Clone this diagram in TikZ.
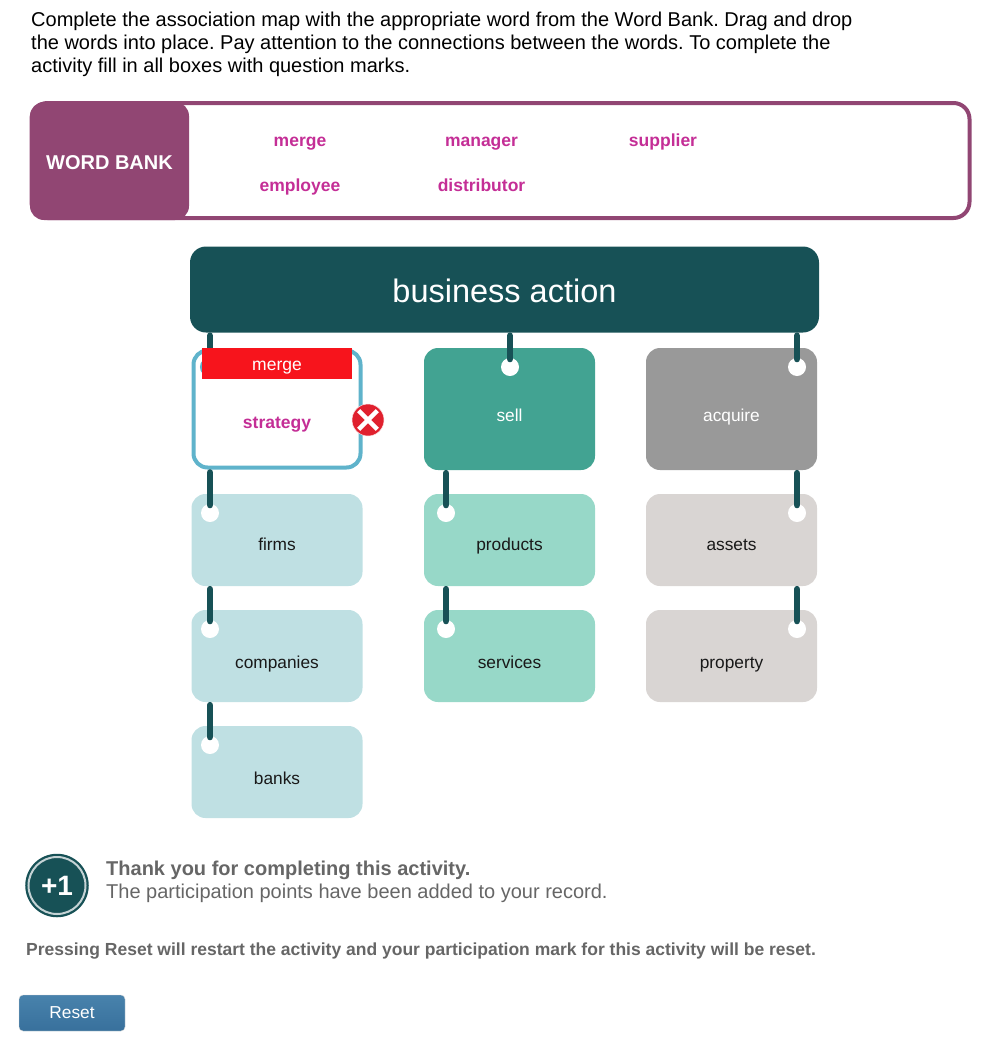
\documentclass[tikz,border=0pt]{standalone}
\usepackage{xcolor}
\usepackage{fontspec}
\setmainfont{Liberation Sans}

\definecolor{bankpurple}{HTML}{914673}
\definecolor{wordpink}{HTML}{C42E96}
\definecolor{darkteal}{HTML}{175156}
\definecolor{ringblue}{HTML}{5FB3CB}
\definecolor{sellgreen}{HTML}{42A392}
\definecolor{lightblue}{HTML}{BFE0E3}
\definecolor{lightgreen}{HTML}{97D8C8}
\definecolor{lightgrey}{HTML}{D9D5D3}
\definecolor{midgrey}{HTML}{999999}
\definecolor{alertred}{HTML}{F7141C}
\definecolor{crossred}{HTML}{E0202E}
\definecolor{notegrey}{HTML}{666666}
\definecolor{resettop}{HTML}{4882AC}
\definecolor{resetbottom}{HTML}{38709C}

\begin{document}
\frenchspacing
\begin{tikzpicture}[x=1pt, y=-1pt]
    % Define styles
    \tikzstyle{bankword} = [text=wordpink, font=\fontsize{17.5}{21}\selectfont\bfseries, text height=14pt, text depth=2pt]
    \tikzstyle{box} = [rectangle, rounded corners=14pt, minimum width=171pt, inner sep=0pt, text=black!90, font=\fontsize{17.3}{20}\selectfont, text depth=0pt]
    \tikzstyle{topbox} = [box, minimum height=122pt, text=white, text height=24pt]
    \tikzstyle{subbox} = [box, minimum height=92pt, text height=21pt]
    \tikzstyle{lowbox} = [subbox, text height=25pt]
    \tikzstyle{dot} = [circle, fill=white, minimum size=18pt, inner sep=0pt]
    \tikzstyle{link} = [line width=6.6pt, draw=darkteal, line cap=round, shorten <=3pt, shorten >=8pt]
    \tikzstyle{note} = [anchor=west, inner sep=0pt, text=notegrey]
    \tikzstyle{crossbar} = [white, line width=4.5pt, shorten >=3pt, shorten <=3pt]

    \useasboundingbox (0,0) rectangle (1005,1039);

    % Instructions
    \node[anchor=north west, inner sep=0pt, align=left, font=\fontsize{20}{23}\selectfont] (intro) at (31,12) {
        Complete the association map with the appropriate word from the Word Bank. Drag and drop\\
        the words into place. Pay attention to the connections between the words. To complete the\\
        activity fill in all boxes with question marks.
    };

    % Word Bank
    \node[rectangle, draw=bankpurple, line width=4pt, rounded corners=16pt, minimum width=938pt, minimum height=115pt] (bank) at (500.5,160.5) {};
    \node[rectangle, fill=bankpurple, rounded corners=14pt, minimum width=159pt, minimum height=118pt, text=white, font=\fontsize{20}{24}\selectfont\bfseries, text height=16pt, text depth=0pt] (banktitle) at (109.5,161) {WORD BANK};
    \node[bankword] (wmerge) at (300,140) {merge};
    \node[bankword] (wmanager) at (481.5,140) {manager};
    \node[bankword] (wsupplier) at (663,140) {supplier};
    \node[bankword] (wemployee) at (300,185) {employee};
    \node[bankword] (wdistributor) at (481.5,185) {distributor};

    % Root
    \node[rectangle, fill=darkteal, rounded corners=16pt, minimum width=629pt, minimum height=86pt, text=white, font=\fontsize{32.5}{38}\selectfont, text height=26pt, text depth=0pt] (action) at (504.5,289.5) {business action};

    % Top row
    \node[topbox, draw=ringblue, line width=4pt, fill=white, minimum width=167pt, minimum height=117pt, text=wordpink, font=\fontsize{17.5}{21}\selectfont\bfseries, text height=38pt] (strategy) at (277,409) {strategy};
    \node[topbox, fill=sellgreen] (sell) at (509.5,409) {sell};
    \node[topbox, fill=midgrey] (acquire) at (731.5,409) {acquire};

    % Lower rows
    \node[subbox, fill=lightblue] (firms) at (277,540) {firms};
    \node[lowbox, fill=lightblue] (companies) at (277,656) {companies};
    \node[lowbox, fill=lightblue] (banks) at (277,772) {banks};
    \node[subbox, fill=lightgreen] (products) at (509.5,540) {products};
    \node[lowbox, fill=lightgreen] (services) at (509.5,656) {services};
    \node[subbox, fill=lightgrey] (assets) at (731.5,540) {assets};
    \node[lowbox, fill=lightgrey] (property) at (731.5,656) {property};

    % Dots
    \node[dot, draw=ringblue, line width=2pt] (dstrategy) at (210,367) {};
    \node[dot] (dsell) at (510,367) {};
    \node[dot] (dacquire) at (797,367) {};
    \node[dot] (dfirms) at (210,513) {};
    \node[dot] (dcompanies) at (210,629) {};
    \node[dot] (dbanks) at (210,745) {};
    \node[dot] (dproducts) at (446,513) {};
    \node[dot] (dservices) at (446,629) {};
    \node[dot] (dassets) at (797,513) {};
    \node[dot] (dproperty) at (797,629) {};

    % Links
    \draw[link] (action.south -| dstrategy) -- (dstrategy.center);
    \draw[link] (action.south -| dsell) -- (dsell.center);
    \draw[link] (action.south -| dacquire) -- (dacquire.center);
    \draw[link] (strategy.south -| dfirms) -- (dfirms.center);
    \draw[link] (firms.south -| dcompanies) -- (dcompanies.center);
    \draw[link] (companies.south -| dbanks) -- (dbanks.center);
    \draw[link] (sell.south -| dproducts) -- (dproducts.center);
    \draw[link] (products.south -| dservices) -- (dservices.center);
    \draw[link] (acquire.south -| dassets) -- (dassets.center);
    \draw[link] (assets.south -| dproperty) -- (dproperty.center);

    % Wrong answer
    \node[rectangle, fill=alertred, minimum width=150pt, minimum height=31pt, inner sep=0pt, text=white, font=\fontsize{17.5}{21}\selectfont, text height=13pt, text depth=0pt] (answer) at (277,363.5) {merge};
    \node[circle, fill=crossred, draw=white!85!crossred, line width=0.5pt, minimum size=32pt, inner sep=0pt] (wrong) at (368,420) {};
    \draw[crossbar] (wrong.north west) -- (wrong.south east);
    \draw[crossbar] (wrong.north east) -- (wrong.south west);

    % Completion message
    \node[circle, fill=darkteal, draw=darkteal, line width=1.5pt, minimum size=62pt, inner sep=0pt] (badge) at (57,885.5) {};
    \node[circle, draw=white!75!darkteal, line width=2pt, minimum size=57pt, inner sep=0pt, text=white, font=\fontsize{28}{32}\selectfont\bfseries] (plusone) at (57,885.5) {+1};
    \node[note, font=\fontsize{20}{24}\selectfont\bfseries] (thanks) at (106,870) {Thank you for completing this activity.};
    \node[note, font=\fontsize{20}{24}\selectfont] (points) at (106,893) {The participation points have been added to your record.};
    \node[note, font=\fontsize{17.5}{21}\selectfont\bfseries] (warning) at (26,951) {Pressing Reset will restart the activity and your participation mark for this activity will be reset.};

    % Reset button
    \node[rectangle, top color=resettop, bottom color=resetbottom, draw=black!15, rounded corners=4pt, minimum width=106pt, minimum height=36pt, inner sep=0pt, text=white, font=\fontsize{17.3}{21}\selectfont, text height=10pt, text depth=0pt] (reset) at (72,1013) {Reset};
\end{tikzpicture}
\end{document}
